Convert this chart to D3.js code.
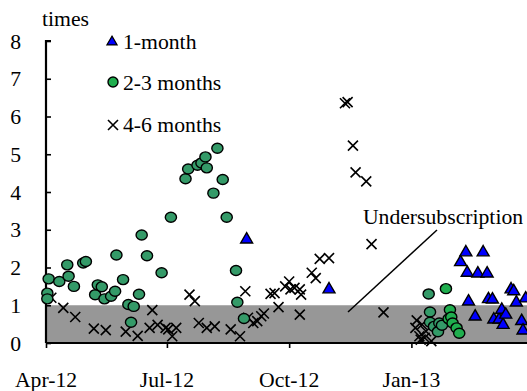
<!DOCTYPE html>
<html>
<head>
<meta charset="utf-8">
<script src="https://cdn.jsdelivr.net/npm/d3@7"></script>
</head>
<body style="margin:0;padding:0;background:#fff">
<div id="chart"></div>
<script>
// [date, times]
const oneMonth = [
  ["2012-08-30", 2.74], ["2012-10-31", 1.42],
  ["2013-02-07", 2.14], ["2013-02-11", 2.40], ["2013-02-12", 1.86], ["2013-02-13", 1.10],
  ["2013-02-18", 0.70], ["2013-02-20", 1.84], ["2013-02-24", 2.40], ["2013-02-27", 1.84],
  ["2013-02-28", 1.16], ["2013-03-03", 1.15], ["2013-03-04", 0.62], ["2013-03-08", 0.62],
  ["2013-03-10", 0.88], ["2013-03-11", 0.48], ["2013-03-13", 0.75], ["2013-03-17", 1.42],
  ["2013-03-19", 1.37], ["2013-03-21", 1.07], ["2013-03-25", 0.58], ["2013-03-26", 0.33],
  ["2013-03-28", 1.18]
];

const twoMonth = [
  ["2012-04-02", 1.32], ["2012-04-02", 1.17], ["2012-04-03", 1.70], ["2012-04-11", 1.63],
  ["2012-04-17", 2.07], ["2012-04-18", 1.77], ["2012-04-22", 1.50], ["2012-04-29", 2.12],
  ["2012-05-01", 2.16], ["2012-05-08", 1.28], ["2012-05-10", 1.54], ["2012-05-13", 1.49],
  ["2012-05-15", 1.17], ["2012-05-20", 1.24], ["2012-05-23", 1.37], ["2012-05-24", 2.33],
  ["2012-05-29", 1.68], ["2012-06-02", 1.02], ["2012-06-04", 0.55], ["2012-06-06", 0.97],
  ["2012-06-10", 1.29], ["2012-06-12", 2.86], ["2012-06-16", 2.31], ["2012-06-27", 1.86],
  ["2012-07-04", 3.33], ["2012-07-15", 4.35], ["2012-07-17", 4.61], ["2012-07-24", 4.71],
  ["2012-07-27", 4.77], ["2012-07-30", 4.93], ["2012-07-31", 4.64], ["2012-08-05", 3.97],
  ["2012-08-08", 5.16], ["2012-08-12", 4.33], ["2012-08-15", 3.33], ["2012-08-22", 1.92],
  ["2012-08-23", 1.08], ["2012-08-28", 0.65],
  ["2013-01-14", 1.30], ["2013-01-15", 0.82], ["2013-01-15", 0.55], ["2013-01-18", 0.44],
  ["2013-01-21", 0.30], ["2013-01-22", 0.53], ["2013-01-24", 0.47]
];

const threeMonth = [
  ["2013-01-27", 1.44], ["2013-01-29", 0.64], ["2013-01-30", 0.88], ["2013-01-31", 0.69],
  ["2013-02-01", 0.53], ["2013-02-04", 0.40], ["2013-02-06", 0.26]
];

const fourSixMonth = [
  ["2012-04-05", 1.20], ["2012-04-14", 0.93], ["2012-04-23", 0.69], ["2012-05-07", 0.38],
  ["2012-05-16", 0.34], ["2012-05-31", 0.30], ["2012-06-09", 0.19], ["2012-06-18", 0.40],
  ["2012-06-20", 0.87], ["2012-06-24", 0.48], ["2012-06-30", 0.40], ["2012-07-02", 0.36],
  ["2012-07-05", 0.18], ["2012-07-08", 0.40], ["2012-07-18", 1.28], ["2012-07-22", 1.11],
  ["2012-07-25", 0.53], ["2012-07-31", 0.40], ["2012-08-06", 0.44], ["2012-08-18", 0.36],
  ["2012-08-25", 0.18], ["2012-08-29", 1.37], ["2012-08-31", 0.67], ["2012-09-04", 0.53],
  ["2012-09-07", 0.58], ["2012-09-10", 0.71], ["2012-09-12", 0.78], ["2012-09-17", 1.30],
  ["2012-09-20", 1.32], ["2012-09-23", 0.95], ["2012-09-28", 1.50], ["2012-10-01", 1.63],
  ["2012-10-02", 1.42], ["2012-10-05", 1.46], ["2012-10-09", 1.42], ["2012-10-09", 0.75],
  ["2012-10-10", 1.28], ["2012-10-18", 1.86], ["2012-10-21", 1.72], ["2012-10-24", 2.23],
  ["2012-10-31", 2.25], ["2012-11-12", 6.35], ["2012-11-14", 6.38], ["2012-11-18", 5.23],
  ["2012-11-20", 4.52], ["2012-11-28", 4.28], ["2012-12-02", 2.62], ["2012-12-11", 0.81],
  ["2013-01-04", 0.40], ["2013-01-05", 0.60], ["2013-01-07", 0.18], ["2013-01-08", 0.09],
  ["2013-01-09", 0.49], ["2013-01-11", 0.14], ["2013-01-12", 0.31], ["2013-01-16", 0.05]
];

const yTicks = [0, 1, 2, 3, 4, 5, 6, 7, 8];
const xTicks = ["2012-04-01", "2012-07-01", "2012-10-01", "2013-01-01"];
const undersubscription = [0, 1];
const legendLabels = ["1-month", "2-3 months", "4-6 months"];

const width = 527, height = 391;
const FONT = '"Liberation Serif", "Times New Roman", "DejaVu Serif", serif';
const parse = d3.timeParse("%Y-%m-%d");

const x = d3.scaleTime()
  .domain([parse("2012-04-01"), parse("2013-03-29")])
  .range([46, 527]);
const y = d3.scaleLinear().domain([0, 8]).range([343, 41]);

const svg = d3.select("#chart").append("svg")
  .attr("width", width)
  .attr("height", height)
  .style("display", "block");

const label = (sel) => sel
  .style("font-family", FONT)
  .style("font-size", "21.7px")
  .style("fill", "#000");

svg.append("defs").append("clipPath").attr("id", "plot")
  .append("rect").attr("x", 0).attr("y", 0).attr("width", width).attr("height", height);

// grey band
svg.append("rect")
  .attr("x", x(parse("2012-04-01")))
  .attr("y", y(undersubscription[1]))
  .attr("width", width - x(parse("2012-04-01")))
  .attr("height", y(undersubscription[0]) - y(undersubscription[1]))
  .attr("fill", "#979797");

// axes
const yAxis = svg.append("g")
  .attr("transform", `translate(${x.range()[0]},0)`)
  .call(d3.axisRight(y).tickValues(yTicks).tickSize(5).tickFormat(""));
yAxis.select(".domain").attr("d", `M5,${y(8)}H0V${y(0)}`).attr("stroke-width", 2.2);
yAxis.selectAll(".tick line").attr("stroke-width", 1.6);

svg.selectAll(".ylab")
  .data(yTicks)
  .enter()
  .append("text")
  .attr("class", "ylab")
  .attr("x", 21)
  .attr("y", d => y(d))
  .attr("dy", "0.35em")
  .attr("text-anchor", "end")
  .call(label)
  .text(d => d);

const xAxis = svg.append("g")
  .attr("transform", `translate(0,${y(0)})`)
  .call(d3.axisBottom(x).tickValues(xTicks.map(parse)).tickSize(5).tickFormat(""));
xAxis.select(".domain").attr("d", `M${x.range()[0]},0H${width}`).attr("stroke-width", 2.2);
xAxis.selectAll(".tick line").attr("stroke-width", 1.6);

svg.selectAll(".xlab")
  .data(xTicks)
  .enter()
  .append("text")
  .attr("class", "xlab")
  .attr("x", d => x(parse(d)))
  .attr("y", 387)
  .attr("text-anchor", "middle")
  .call(label)
  .text(d => d3.timeFormat("%b-%y")(parse(d)));

svg.append("text")
  .text("times")
  .attr("x", 42)
  .attr("y", 26)
  .call(label);

// markers
const plot = svg.append("g").attr("clip-path", "url(#plot)");
const tri = d3.symbol().type(d3.symbolTriangle).size(62);

const crossPath = (s) => `M${-s},${-s}L${s},${s}M${-s},${s}L${s},${-s}`;

plot.selectAll(".cross")
  .data(fourSixMonth)
  .enter()
  .append("path")
  .attr("class", "cross")
  .attr("transform", d => `translate(${x(parse(d[0]))},${y(d[1])})`)
  .attr("d", crossPath(5))
  .attr("fill", "none")
  .attr("stroke", "#000")
  .attr("stroke-width", 1.6);

const drawCircles = (data, color) => plot.append("g")
  .selectAll("ellipse")
  .data(data)
  .enter()
  .append("ellipse")
  .attr("cx", d => x(parse(d[0])))
  .attr("cy", d => y(d[1]))
  .attr("rx", 5.6)
  .attr("ry", 5)
  .attr("fill", color)
  .attr("stroke", "#000")
  .attr("stroke-width", 1.4);

drawCircles(twoMonth, "#349a68");
drawCircles(threeMonth, "#1fae4e");

plot.selectAll(".tri")
  .data(oneMonth)
  .enter()
  .append("path")
  .attr("class", "tri")
  .attr("transform", d => `translate(${x(parse(d[0]))},${y(d[1])})`)
  .attr("d", tri)
  .attr("fill", "#0000ff")
  .attr("stroke", "#000")
  .attr("stroke-width", 1.4);

// legend
const legend = svg.append("g");
legend.append("path")
  .attr("transform", "translate(112,42)")
  .attr("d", d3.symbol().type(d3.symbolTriangle).size(45)())
  .attr("fill", "#0000ff")
  .attr("stroke", "#000")
  .attr("stroke-width", 1.2);
legend.append("circle")
  .attr("cx", 113).attr("cy", 82).attr("r", 5)
  .attr("fill", "#1fae4e")
  .attr("stroke", "#000")
  .attr("stroke-width", 1.4);
legend.append("path")
  .attr("transform", "translate(113,125)")
  .attr("d", crossPath(5))
  .attr("stroke", "#000")
  .attr("stroke-width", 1.6);

legend.selectAll("text")
  .data(legendLabels)
  .enter()
  .append("text")
  .attr("x", 123)
  .attr("y", (d, i) => [48.5, 90, 131.5][i])
  .call(label)
  .text(d => d);

// annotation
svg.append("line")
  .attr("x1", 348).attr("y1", 312)
  .attr("x2", 437).attr("y2", 230)
  .attr("stroke", "#000")
  .attr("stroke-width", 1.5);

svg.append("text")
  .text("Undersubscription")
  .attr("x", 443)
  .attr("y", 224)
  .attr("text-anchor", "middle")
  .call(label);
</script>
</body>
</html>
